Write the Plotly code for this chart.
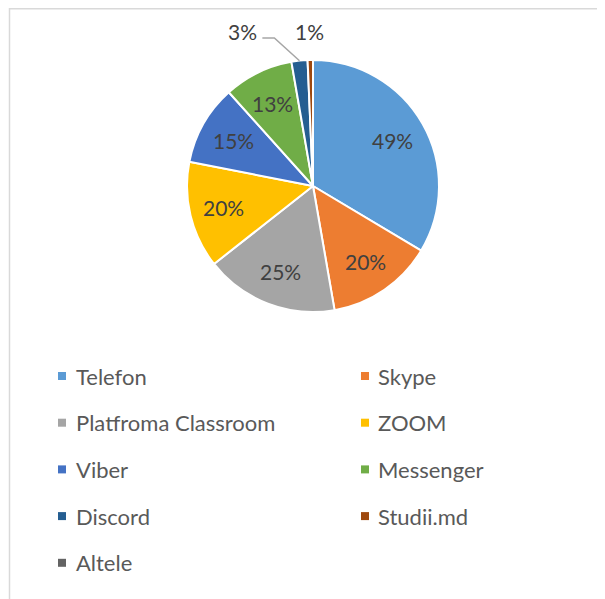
import math
import plotly.graph_objects as go

labels = ["Telefon", "Skype", "Platfroma Classroom", "ZOOM", "Viber",
          "Messenger", "Discord", "Studii.md", "Altele"]
values = [49, 20, 25, 20, 15, 13, 3, 1, 0]
colors = ["#5B9BD5", "#ED7D31", "#A5A5A5", "#FFC000", "#4472C4",
          "#70AD47", "#255E91", "#9E480E", "#636363"]

# figure pixel space (page is offset by 8px body margin)
W, H = 597, 591
cx, cy, r = 305, 178, 126


def px(x):
    return x / W


def py(y):
    return 1 - y / H


fig = go.Figure()
fig.add_trace(go.Pie(
    labels=labels, values=values, textinfo="none",
    sort=False, direction="clockwise", rotation=0,
    marker=dict(colors=colors, line=dict(color="white", width=2)),
    domain=dict(x=[px(cx - r), px(cx + r)], y=[py(cy + r), py(cy - r)]),
    showlegend=False, hoverinfo="label+value",
))

shapes = [dict(type="rect", xref="paper", yref="paper",
               x0=px(1.5), x1=1.05, y0=-0.05, y1=py(0.75),
               line=dict(color="#D9D9D9", width=1.5), fillcolor="rgba(0,0,0,0)")]
annotations = []

# data labels placed along each slice's mid-angle
total = sum(values)
label_shift = {6: -54}
cum = 0
for i, v in enumerate(values):
    theta = (cum + v / 2) / total * 2 * math.pi
    cum += v
    if v <= 0:
        continue
    s, c = math.sin(theta), math.cos(theta)
    if v >= 5:
        k = 0.73
        lx, ly = cx + k * r * s, cy - k * r * c
    else:
        k = 1.23
        lx, ly = cx + k * r * s + label_shift.get(i, 0), cy - k * r * c
        if i in label_shift:
            ex, ey = cx + r * s, cy - r * c
            x0 = lx + 20
            shapes.append(dict(type="path", xref="paper", yref="paper",
                               path=f"M {px(x0)} {py(ly + 6)} L {px(x0 + 12)} {py(ly + 6)} L {px(ex)} {py(ey)}",
                               line=dict(color="#A6A6A6", width=1.5)))
    annotations.append(dict(xref="paper", yref="paper", x=px(lx), y=py(ly),
                            xanchor="center", yanchor="middle", showarrow=False,
                            text=f"{v}%", font=dict(family="Lato", size=21, color="#404040")))

# legend
col_marker_x = [50, 353]
col_text_x = [66, 368]
row_y0, row_dy = 368, 46.7
for i, (lab, col) in enumerate(zip(labels, colors)):
    c, rrow = i % 2, i // 2
    yc = row_y0 + rrow * row_dy
    mx = col_marker_x[c]
    shapes.append(dict(type="rect", xref="paper", yref="paper",
                       x0=px(mx), x1=px(mx + 8), y0=py(yc + 4), y1=py(yc - 4),
                       fillcolor=col, line=dict(width=0)))
    annotations.append(dict(xref="paper", yref="paper", x=px(col_text_x[c]), y=py(yc),
                            xanchor="left", yanchor="middle", showarrow=False, text=lab,
                            font=dict(family="Lato", size=22, color="#595959")))

fig.update_layout(width=W, height=H, margin=dict(l=0, r=0, t=0, b=0),
                  paper_bgcolor="white", plot_bgcolor="white",
                  shapes=shapes, annotations=annotations)
fig.write_html("out.html")
